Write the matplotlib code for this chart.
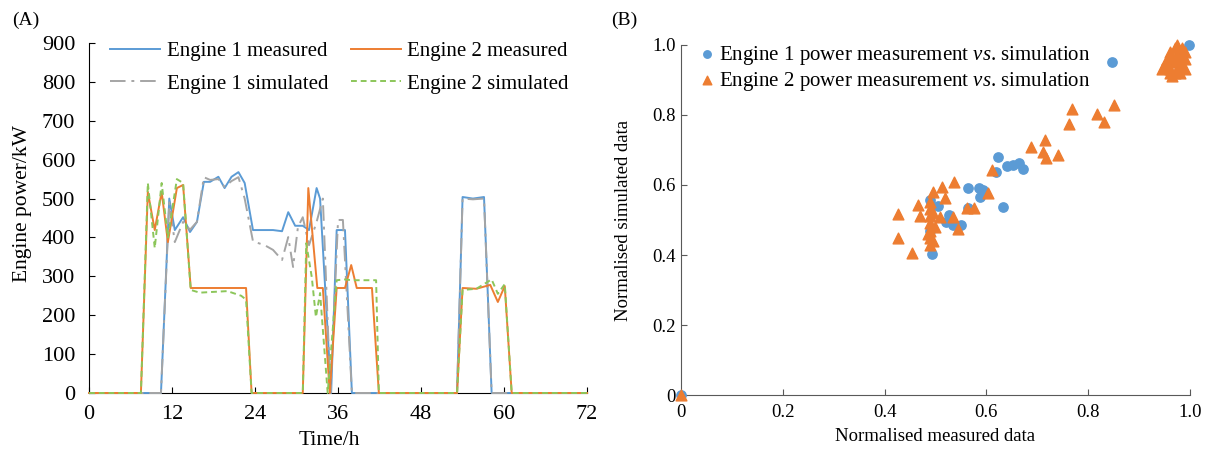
import numpy as np
import matplotlib.pyplot as plt

plt.rcParams['font.family'] = ['Liberation Serif', 'DejaVu Serif']
plt.rcParams['mathtext.fontset'] = 'custom'
plt.rcParams['mathtext.rm'] = 'Liberation Serif'
plt.rcParams['mathtext.it'] = 'Liberation Serif:italic'
plt.rcParams['font.size'] = 13

# ---- panel A data (time in h, power in kW)
t_e1_meas = [0, 10.4, 11.6, 12.4, 13.6, 14.6, 15.6, 16.6, 17.5, 18.7, 19.6, 20.6, 21.6, 22.5, 23.7,
             26.6, 27.9, 28.8, 29.8, 30.9, 31.8, 32.9, 33.4, 35.0, 35.8, 37.0, 38.0,
             53.2, 54.0, 55.5, 57.1, 58.2, 72]
p_e1_meas = [0, 0, 500, 419, 452, 414, 440, 543, 543, 556, 527, 556, 568, 540, 419,
             419, 416, 465, 430, 430, 419, 527, 500, 0, 419, 419, 0,
             0, 504, 500, 504, 0, 0]

t_e2_meas = [0, 7.5, 8.5, 9.5, 10.5, 11.4, 12.7, 13.6, 14.7, 22.7, 23.5,
             30.9, 31.7, 33.0, 33.8, 34.8, 35.8, 37.0, 37.9, 38.7, 40.9, 41.9,
             53.2, 54.0, 56.0, 58.0, 59.1, 60.1, 61.1, 72]
p_e2_meas = [0, 0, 517, 419, 517, 388, 527, 535, 270, 270, 0,
             0, 527, 270, 270, 0, 270, 270, 329, 270, 270, 0,
             0, 270, 268, 278, 234, 275, 0, 0]

t_e1_sim = [0, 10.4, 11.6, 12.4, 13.6, 14.6, 15.6, 16.6, 17.5, 18.7, 19.6, 20.6, 21.6, 22.5, 23.7,
            25.4, 26.6, 27.9, 28.8, 29.5, 30.2, 30.9, 31.8, 32.9, 33.8, 34.9, 36.0, 36.7, 38.0,
            53.2, 54.0, 55.5, 57.1, 58.2, 72]
p_e1_sim = [0, 0, 490, 388, 440, 420, 440, 555, 548, 550, 530, 545, 555, 500, 390,
            380, 368, 342, 401, 324, 427, 452, 380, 440, 500, 0, 445, 445, 0,
            0, 500, 498, 500, 0, 0]

t_e2_sim = [0, 7.5, 8.5, 9.5, 10.5, 11.4, 12.7, 13.6, 14.7, 16, 20, 22.0, 22.7, 23.5,
            30.9, 31.4, 32.2, 32.8, 33.4, 34.5, 35.8, 37.0, 38.0, 40.0, 41.5, 41.9,
            53.2, 54.0, 56.0, 58.2, 59.1, 60.1, 61.1, 72]
p_e2_sim = [0, 0, 540, 373, 540, 400, 550, 540, 265, 258, 262, 250, 240, 0,
            0, 385, 298, 195, 257, 0, 290, 292, 290, 290, 290, 0,
            0, 265, 268, 292, 255, 280, 0, 0]

# ---- panel B data (normalised)
e1_meas = [0, 0.998, 0.847, 0.97, 0.98, 0.623, 0.64, 0.653, 0.664, 0.672, 0.619, 0.564, 0.586, 0.593,
           0.587, 0.632, 0.564, 0.489, 0.505, 0.527, 0.52, 0.535, 0.55, 0.493, 0.489]
e1_sim = [0, 1.0, 0.951, 0.95, 0.97, 0.68, 0.654, 0.657, 0.663, 0.646, 0.637, 0.591, 0.591, 0.586,
          0.566, 0.537, 0.534, 0.557, 0.54, 0.514, 0.494, 0.486, 0.486, 0.403, 0.47]

e2_meas = [0, 0.768, 0.817, 0.831, 0.851, 0.762, 0.688, 0.715, 0.711, 0.717, 0.741, 0.611,
           0.536, 0.513, 0.495, 0.519, 0.603, 0.466, 0.562, 0.576, 0.426, 0.47, 0.509, 0.534,
           0.544, 0.426, 0.454, 0.499,
           0.49, 0.49, 0.49, 0.49, 0.49, 0.49, 0.49, 0.495, 0.485, 0.495,
           0.95, 0.955, 0.96, 0.965, 0.97, 0.975, 0.98, 0.985, 0.99, 0.945, 0.96, 0.97,
           0.98, 0.99, 0.975, 0.985, 0.955, 0.965, 0.98, 0.99, 0.97, 0.96, 0.985, 0.975]
e2_sim = [0, 0.817, 0.803, 0.78, 0.829, 0.774, 0.709, 0.729, 0.694, 0.677, 0.686, 0.643,
          0.609, 0.594, 0.58, 0.563, 0.577, 0.543, 0.534, 0.534, 0.517, 0.511, 0.509, 0.509,
          0.474, 0.449, 0.406, 0.48,
          0.43, 0.45, 0.47, 0.49, 0.51, 0.53, 0.55, 0.44, 0.46, 0.52,
          0.94, 0.95, 0.93, 0.96, 0.92, 0.97, 0.94, 0.99, 0.96, 0.93, 0.98, 0.95,
          0.92, 0.93, 1.0, 0.97, 0.96, 0.91, 0.95, 0.98, 0.99, 0.92, 0.94, 0.96]

blue = '#5B9BD5'
orange = '#ED7D31'
grey = '#A5A5A5'
green = '#8CC65A'

fig = plt.figure(figsize=(12.08, 4.53), dpi=100)
axA = fig.add_axes([0.0737, 0.1325, 0.4123, 0.7725])
axB = fig.add_axes([0.5637, 0.128, 0.4213, 0.7727])

axA.plot(t_e1_meas, p_e1_meas, color=blue, lw=1.4, label='Engine 1 measured', clip_on=False, zorder=3)
axA.plot(t_e1_sim, p_e1_sim, color=grey, lw=1.4, ls=(0, (8, 3, 1.5, 3)), label='Engine 1 simulated',
         clip_on=False, zorder=3)
axA.plot(t_e2_meas, p_e2_meas, color=orange, lw=1.4, label='Engine 2 measured', clip_on=False, zorder=4)
axA.plot(t_e2_sim, p_e2_sim, color=green, lw=1.4, ls=(0, (3, 2)), label='Engine 2 simulated',
         clip_on=False, zorder=4)
axA.set_xlim(0, 72)
axA.set_ylim(0, 900)
axA.set_xticks(np.arange(0, 73, 12))
axA.set_yticks(np.arange(0, 901, 100))
axA.set_xlabel('Time/h', fontsize=15.5)
axA.set_ylabel('Engine power/kW', fontsize=15.5)
axA.xaxis.set_label_coords(0.482, -0.108)
axA.yaxis.set_label_coords(-0.114, 0.54)
for s in ['top', 'right']:
    axA.spines[s].set_visible(False)
axA.tick_params(direction='in', length=4, labelsize=16)
axA.tick_params(axis='x', pad=8.5)
axA.tick_params(axis='y', pad=10)
axA.legend(ncol=2, frameon=False, loc='upper left', bbox_to_anchor=(0.005, 1.058),
           handlelength=2.4, handletextpad=0.3, columnspacing=1.1, labelspacing=0.62, fontsize=15)

axB.scatter(e1_meas, e1_sim, color=blue, s=45, marker='o',
            label='Engine 1 power measurement $\\mathit{vs}$. simulation', clip_on=False, zorder=3)
axB.scatter(e2_meas, e2_sim, color=orange, s=60, marker='^',
            label='Engine 2 power measurement $\\mathit{vs}$. simulation', clip_on=False, zorder=4)
axB.set_xlim(0, 1)
axB.set_ylim(0, 1)
ticks = [0, 0.2, 0.4, 0.6, 0.8, 1.0]
labs = ['0', '0.2', '0.4', '0.6', '0.8', '1.0']
axB.set_xticks(ticks, labs)
axB.set_yticks(ticks, labs)
axB.set_xlabel('Normalised measured data', labelpad=5, fontsize=13.5)
axB.set_ylabel('Normalised simulated data', labelpad=15, fontsize=13.5)
for s in ['top', 'right']:
    axB.spines[s].set_visible(False)
for s in ['left', 'bottom']:
    axB.spines[s].set_color('#595959')
axB.tick_params(direction='in', length=4, color='#595959', labelsize=13.5)
axB.tick_params(axis='x', pad=6.5)
axB.legend(frameon=False, loc='upper left', bbox_to_anchor=(0.0, 1.057), handlelength=0.7,
           handletextpad=0.25, labelspacing=0.15, fontsize=15, markerscale=0.8)

fig.text(0.01, 0.945, '(A)', fontsize=14)
fig.text(0.506, 0.945, '(B)', fontsize=14)

fig.savefig('out.png', dpi=100)
